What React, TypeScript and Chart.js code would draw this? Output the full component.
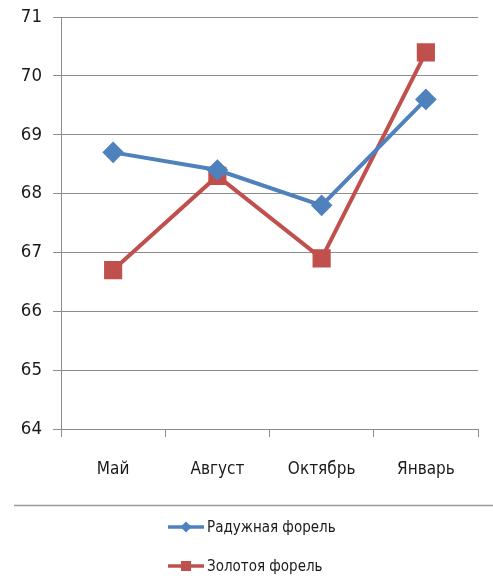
import React, { useEffect, useRef } from "react";
import { Chart, registerables } from "chart.js";

Chart.register(...registerables);

const categories = ["Май", "Август", "Октябрь", "Январь"];
const rainbowTrout = [68.7, 68.4, 67.8, 69.6];
const goldenTrout = [66.7, 68.3, 66.9, 70.4];
const seriesNames = ["Радужная форель", "Золотоя форель"];
const yMin = 64;
const yMax = 71;
const yStep = 1;

const BLUE = "#4F81BD";
const RED = "#C0504D";
const GRID = "#8c8c8c";
const TEXT = "#1a1a1a";
const FONT = "'Liberation Sans Narrow', 'DejaVu Sans Condensed', 'Roboto', sans-serif";

const bottomLegend = {
  id: "bottomLegend",
  afterDraw(chart: any) {
    const ctx = chart.ctx;
    ctx.save();
    ctx.strokeStyle = "#9a9a9a";
    ctx.lineWidth = 1.5;
    ctx.beginPath();
    ctx.moveTo(14, 505.5);
    ctx.lineTo(493, 505.5);
    ctx.stroke();
    const ys = [527, 566];
    chart.data.datasets.forEach((ds: any, i: number) => {
      const y = ys[i];
      const x0 = 168;
      const x1 = 204;
      ctx.strokeStyle = ds.borderColor;
      ctx.lineWidth = 3.5;
      ctx.beginPath();
      ctx.moveTo(x0, y);
      ctx.lineTo(x1, y);
      ctx.stroke();
      ctx.fillStyle = ds.pointBackgroundColor;
      const cx = (x0 + x1) / 2;
      if (ds.pointStyle === "rectRot") {
        const r = 5.5;
        ctx.beginPath();
        ctx.moveTo(cx, y - r);
        ctx.lineTo(cx + r, y);
        ctx.lineTo(cx, y + r);
        ctx.lineTo(cx - r, y);
        ctx.closePath();
        ctx.fill();
      } else {
        const s = 5;
        ctx.fillRect(cx - s, y - s, 2 * s, 2 * s);
      }
      ctx.fillStyle = TEXT;
      ctx.font = `15px ${FONT}`;
      ctx.textBaseline = "middle";
      ctx.textAlign = "left";
      ctx.fillText(ds.label, x1 + 3, y + 1);
    });
    ctx.restore();
  },
};

export default function App() {
  const ref = useRef<HTMLCanvasElement | null>(null);

  useEffect(() => {
    document.body.style.margin = "0";
    if (!ref.current) return;
    const chart = new Chart(ref.current, {
      type: "line",
      data: {
        labels: categories,
        datasets: [
          {
            label: seriesNames[0],
            data: rainbowTrout,
            borderColor: BLUE,
            backgroundColor: BLUE,
            pointBackgroundColor: BLUE,
            pointBorderColor: BLUE,
            pointStyle: "rectRot",
            pointRadius: 8,
            borderWidth: 4,
            tension: 0,
          },
          {
            label: seriesNames[1],
            data: goldenTrout,
            borderColor: RED,
            backgroundColor: RED,
            pointBackgroundColor: RED,
            pointBorderColor: RED,
            pointStyle: "rect",
            pointRadius: 10,
            borderWidth: 4,
            tension: 0,
          },
        ],
      },
      options: {
        animation: false,
        responsive: false,
        devicePixelRatio: 1,
        layout: { padding: { top: 17, right: 15, left: 0, bottom: 0 } },
        plugins: {
          legend: { display: false },
          tooltip: { enabled: false },
        },
        scales: {
          x: {
            offset: true,
            afterFit: (scale: any) => {
              scale.height = 152;
              scale.paddingLeft = 0;
              scale.paddingRight = 0;
            },
            grid: {
              offset: true,
              drawOnChartArea: false,
              drawTicks: true,
              tickLength: 8,
              color: GRID,
            },
            border: { display: true, color: GRID, width: 1 },
            ticks: {
              padding: 22,
              color: TEXT,
              font: { size: 17, family: FONT },
              maxRotation: 0,
            },
          },
          y: {
            min: yMin,
            max: yMax,
            afterFit: (scale: any) => {
              scale.width = 61;
              scale.paddingTop = 0;
              scale.paddingBottom = 0;
            },
            ticks: {
              stepSize: yStep,
              padding: 11,
              color: TEXT,
              font: { size: 18.5, family: FONT },
            },
            grid: {
              color: GRID,
              tickLength: 8,
              drawTicks: true,
            },
            border: { display: true, color: GRID, width: 1 },
          },
        },
      },
      plugins: [bottomLegend],
    });
    return () => chart.destroy();
  }, []);

  return (
    <div style={{ position: "absolute", left: 0, top: 0, width: 493, height: 581, background: "#fff" }}>
      <canvas ref={ref} width={493} height={581} style={{ width: 493, height: 581, display: "block" }} />
    </div>
  );
}
